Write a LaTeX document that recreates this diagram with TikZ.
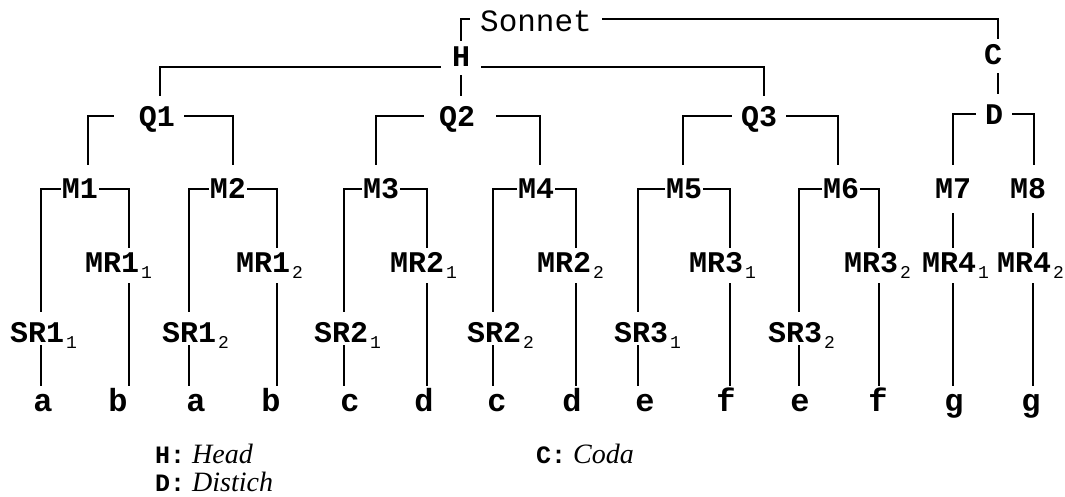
\documentclass[tikz,border=0pt]{standalone}
\usepackage{fontspec}
\setmainfont{Liberation Serif}
\newfontfamily\monof{Liberation Mono}
\newcommand\subidx[1]{\hspace{2pt}\raisebox{-6pt}{\monof\mdseries\fontsize{18}{18}\selectfont #1}}
\newcommand\legkey[1]{{\monof\bfseries\fontsize{25}{25}\selectfont #1}}
\begin{document}
\begin{tikzpicture}[x=1pt,y=-1pt,
  lab/.style={font=\monof\bfseries\fontsize{30}{30}\selectfont, inner sep=0pt, anchor=base},
  sonnet/.style={font=\monof\fontsize{31}{31}\selectfont, text height=26pt, text depth=0pt, inner xsep=10pt, inner ysep=0pt, anchor=base},
  hc/.style={lab, text height=18pt, text depth=0pt, inner xsep=11pt, inner ysep=8pt},
  qd/.style={lab, text height=22pt, text depth=0pt, inner xsep=9pt, inner ysep=9pt},
  mm/.style={lab, text height=20pt, text depth=0pt, inner xsep=1pt, inner ysep=14pt},
  mr/.style={lab, text height=18pt, text depth=5pt, inner xsep=0pt, inner ysep=6pt, anchor=base west},
  sr/.style={lab, text height=28pt, text depth=1pt, inner xsep=0pt, inner ysep=2pt, anchor=base west},
  leaf/.style={font=\monof\bfseries\fontsize{32}{32}\selectfont, text height=14pt, text depth=0pt, inner xsep=0pt, inner ysep=11pt, anchor=base},
  legend/.style={font=\fontsize{28}{28}\selectfont, inner sep=0pt, text height=20pt, text depth=0pt, anchor=base west},
  conn/.style={line width=2.2pt}]
\fill[white] (0,0) rectangle (1065,497);
\useasboundingbox (0,0) rectangle (1065,497);
% x positions of vertical lines
\coordinate (xC) at (998,0);
\coordinate (xQ1) at (160,0);
\coordinate (xQ3) at (764,0);
\coordinate (xM1) at (88,0);
\coordinate (xM2) at (233,0);
\coordinate (xM3) at (376,0);
\coordinate (xM4) at (540,0);
\coordinate (xM5) at (683,0);
\coordinate (xM6) at (838,0);
\coordinate (xM8) at (1034,0);
\coordinate (xa1) at (41,0);
\coordinate (xb1) at (129,0);
\coordinate (xa2) at (189,0);
\coordinate (xb2) at (277,0);
\coordinate (xc1) at (344,0);
\coordinate (xd1) at (427,0);
\coordinate (xc2) at (493,0);
\coordinate (xd2) at (576,0);
\coordinate (xe1) at (638,0);
\coordinate (xf1) at (730,0);
\coordinate (xe2) at (799,0);
\coordinate (xf2) at (879,0);
\coordinate (xg2) at (1033,0);
% nodes
\node[sonnet] (S) at (536,32) {Sonnet};
\node[hc] (H) at (461,67) {H};
\node[hc] (C) at (993,65) {C};
\node[qd] (Q1) at (157,127) {Q1};
\node[qd] (Q2) at (457,127) {Q2};
\node[qd] (Q3) at (759,127) {Q3};
\node[qd] (D) at (994,125) {D};
\node[mm] (M1) at (80,199) {M1};
\node[mm] (M2) at (228,199) {M2};
\node[mm] (M3) at (381,199) {M3};
\node[mm] (M4) at (536,199) {M4};
\node[mm] (M5) at (684,199) {M5};
\node[mm] (M6) at (841,199) {M6};
\node[mm] (M7) at (953,199) {M7};
\node[mm] (M8) at (1028,199) {M8};
\node[mr] (MR11) at (85,272) {MR1\subidx{1}};
\node[mr] (MR12) at (236,272) {MR1\subidx{2}};
\node[mr] (MR21) at (390,272) {MR2\subidx{1}};
\node[mr] (MR22) at (537,272) {MR2\subidx{2}};
\node[mr] (MR31) at (689,272) {MR3\subidx{1}};
\node[mr] (MR32) at (844,272) {MR3\subidx{2}};
\node[mr] (MR41) at (922,272) {MR4\subidx{1}};
\node[mr] (MR42) at (997,272) {MR4\subidx{2}};
\node[sr] (SR11) at (10,342) {SR1\subidx{1}};
\node[sr] (SR12) at (162,342) {SR1\subidx{2}};
\node[sr] (SR21) at (314,342) {SR2\subidx{1}};
\node[sr] (SR22) at (467,342) {SR2\subidx{2}};
\node[sr] (SR31) at (614,342) {SR3\subidx{1}};
\node[sr] (SR32) at (768,342) {SR3\subidx{2}};
\node[leaf] (a1) at (43,411) {a};
\node[leaf] (b1) at (118,411) {b};
\node[leaf] (a2) at (196,411) {a};
\node[leaf] (b2) at (271,411) {b};
\node[leaf] (c1) at (350,411) {c};
\node[leaf] (d1) at (424,411) {d};
\node[leaf] (c2) at (497,411) {c};
\node[leaf] (d2) at (572,411) {d};
\node[leaf] (e1) at (645,411) {e};
\node[leaf] (f1) at (726,411) {f};
\node[leaf] (e2) at (800,411) {e};
\node[leaf] (f2) at (878,411) {f};
\node[leaf] (g1) at (954,411) {g};
\node[leaf] (g2) at (1031,411) {g};
% legend
\node[legend] (LH) at (155,463) {\legkey{H:} \textit{Head}};
\node[legend] (LD) at (155,491) {\legkey{D:} \textit{Distich}};
\node[legend] (LC) at (536,463) {\legkey{C:} \textit{Coda}};
% connectors
\draw[conn] (S.west) -| (H.north);
\draw[conn] (S.east) -| (C.north -| xC);
\draw[conn] (C.south -| xC) -- (D.north -| xC);
\draw[conn] (H.base west) -| (Q1.north -| xQ1);
\draw[conn] (H.base east) -| (Q3.north -| xQ3);
\draw[conn] (H.south) -- (H.south |- Q2.north);
\draw[conn] ([xshift=-16pt]Q1.west) -| (M1.north -| xM1);
\draw[conn] (Q1.east) -| (M2.north -| xM2);
\draw[conn] ([xshift=-6pt]Q2.west) -| (M3.north -| xM3);
\draw[conn] ([xshift=12pt]Q2.east) -| (M4.north -| xM4);
\draw[conn] (Q3.west) -| (M5.north -| xM5);
\draw[conn] (Q3.east) -| (M6.north -| xM6);
\draw[conn] (D.west) -| (M7.north);
\draw[conn] (D.east) -| (M8.north -| xM8);
% M brackets
\draw[conn] (M1.west) -| (SR11.north -| xa1);
\draw[conn] (M1.east) -| (MR11.north -| xb1);
\draw[conn] (M2.west) -| (SR12.north -| xa2);
\draw[conn] (M2.east) -| (MR12.north -| xb2);
\draw[conn] (M3.west) -| (SR21.north -| xc1);
\draw[conn] (M3.east) -| (MR21.north -| xd1);
\draw[conn] (M4.west) -| (SR22.north -| xc2);
\draw[conn] (M4.east) -| (MR22.north -| xd2);
\draw[conn] (M5.west) -| (SR31.north -| xe1);
\draw[conn] (M5.east) -| (MR31.north -| xf1);
\draw[conn] (M6.west) -| (SR32.north -| xe2);
\draw[conn] (M6.east) -| (MR32.north -| xf2);
\draw[conn] (M7.south) -- (M7.south |- MR41.north);
\draw[conn] (M8.south -| xg2) -- (MR42.north -| xg2);
% lower lines
\draw[conn] (SR11.south -| xa1) -- (a1.north -| xa1);
\draw[conn] (MR11.south -| xb1) -- (b1.north -| xb1);
\draw[conn] (SR12.south -| xa2) -- (a2.north -| xa2);
\draw[conn] (MR12.south -| xb2) -- (b2.north -| xb2);
\draw[conn] (SR21.south -| xc1) -- (c1.north -| xc1);
\draw[conn] (MR21.south -| xd1) -- (d1.north -| xd1);
\draw[conn] (SR22.south -| xc2) -- (c2.north -| xc2);
\draw[conn] (MR22.south -| xd2) -- (d2.north -| xd2);
\draw[conn] (SR31.south -| xe1) -- (e1.north -| xe1);
\draw[conn] (MR31.south -| xf1) -- (f1.north -| xf1);
\draw[conn] (SR32.south -| xe2) -- (e2.north -| xe2);
\draw[conn] (MR32.south -| xf2) -- (f2.north -| xf2);
\draw[conn] (MR41.south -| M7.south) -- (g1.north -| M7.south);
\draw[conn] (MR42.south -| xg2) -- (g2.north -| xg2);
\end{tikzpicture}
\end{document}
